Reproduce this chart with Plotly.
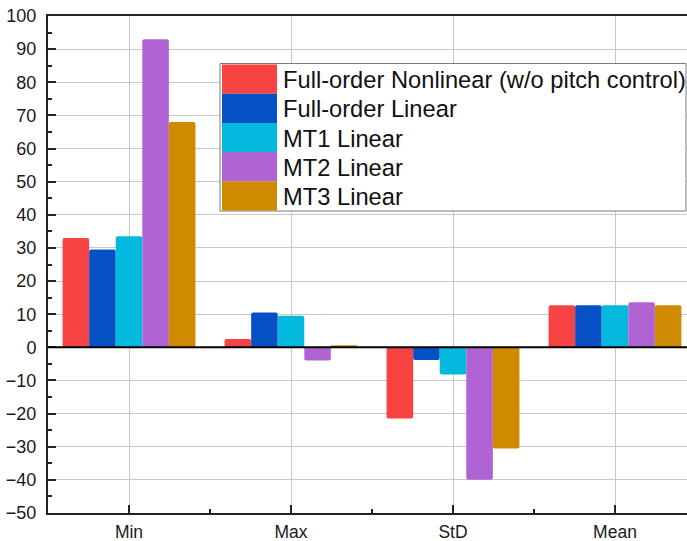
import plotly.graph_objects as go

# Statistics of the response for each model
categories = ["Min", "Max", "StD", "Mean"]
series_names = [
    "Full-order Nonlinear (w/o pitch control)",
    "Full-order Linear",
    "MT1 Linear",
    "MT2 Linear",
    "MT3 Linear",
]
full_nonlinear = [33.0, 2.5, -21.5, 12.7]
full_linear = [29.5, 10.5, -3.8, 12.7]
mt1_linear = [33.5, 9.5, -8.2, 12.7]
mt2_linear = [93.0, -4.0, -40.0, 13.6]
mt3_linear = [68.0, 0.6, -30.5, 12.7]

series_values = [full_nonlinear, full_linear, mt1_linear, mt2_linear, mt3_linear]
colors = ["#F74341", "#0650C6", "#05B9DE", "#B064D4", "#CF8A02"]

W, H = 687, 541
ML, MT, MB, MR = 48, 16, 28, 0
PW, PH = W - ML - MR, H - MT - MB
FONT = "Arial, Liberation Sans, sans-serif"


def px_x(p):
    return (p - ML) / PW


def px_y(p):
    return (H - MB - p) / PH


xs = list(range(len(categories)))

fig = go.Figure()
for name, vals, col in zip(series_names, series_values, colors):
    fig.add_trace(go.Bar(
        x=xs, y=vals, name=name,
        marker=dict(color=col, line=dict(width=0)),
        showlegend=False,
    ))

shapes = []
annotations = []

# zero line drawn over the bars
shapes.append(dict(type="line", xref="paper", yref="y", x0=0, x1=1, y0=0, y1=0,
                   line=dict(color="black", width=2), layer="above"))

# legend box with large colour swatches
box_l, box_r, box_t, row_h = 220, 686, 63.5, 29.2
box_b = box_t + row_h * len(series_names) + 1.5
shapes.append(dict(type="rect", xref="paper", yref="paper",
                   x0=px_x(box_l), x1=px_x(box_r), y0=px_y(box_b), y1=px_y(box_t),
                   line=dict(color="#7a7a7a", width=1), fillcolor="white", layer="above"))
for i, (name, col) in enumerate(zip(series_names, colors)):
    top = box_t + 1 + i * row_h
    shapes.append(dict(type="rect", xref="paper", yref="paper",
                       x0=px_x(222), x1=px_x(277), y0=px_y(top + row_h), y1=px_y(top),
                       line=dict(width=0), fillcolor=col, layer="above"))
    annotations.append(dict(xref="paper", yref="paper", x=px_x(281), y=px_y(top + row_h / 2 + 1),
                            text=name, showarrow=False, xanchor="left", yanchor="middle",
                            font=dict(family=FONT, size=23.7, color="#111111")))

fig.update_layout(
    width=W, height=H,
    margin=dict(l=ML, r=MR, t=MT, b=MB, pad=0),
    paper_bgcolor="white", plot_bgcolor="white",
    barmode="group", bargap=0.18, bargroupgap=0, barcornerradius=2,
    font=dict(family=FONT, size=17, color="#1a1a1a"),
    shapes=shapes, annotations=annotations,
    showlegend=False,
)

fig.update_xaxes(
    range=[-0.5, -0.5 + PW / 162.0],
    tickmode="array", tickvals=xs, ticktext=categories,
    showgrid=True, gridcolor="#c8c8c8", gridwidth=1,
    showline=True, linecolor="#222222", linewidth=2, mirror=True,
    ticks="inside", ticklen=8, tickwidth=2, tickcolor="#222222",
    minor=dict(tickmode="linear", tick0=0.5, dtick=1, ticks="inside", ticklen=4,
               tickwidth=2, tickcolor="#222222", showgrid=False),
    zeroline=False, fixedrange=True, ticklabelstandoff=2,
    tickfont=dict(family=FONT, size=17.5, color="#1a1a1a"),
)
fig.update_yaxes(
    range=[-50, 100], dtick=10, tick0=0,
    showgrid=True, gridcolor="#c8c8c8", gridwidth=1,
    showline=True, linecolor="#222222", linewidth=2, mirror=False,
    ticks="inside", ticklen=8, tickwidth=2, tickcolor="#222222",
    minor=dict(dtick=5, ticks="inside", ticklen=4, tickwidth=2, tickcolor="#222222", showgrid=False),
    zeroline=False, fixedrange=True, ticklabelstandoff=6,
    tickfont=dict(family=FONT, size=18, color="#1a1a1a"),
)

fig.write_html("out.html")
